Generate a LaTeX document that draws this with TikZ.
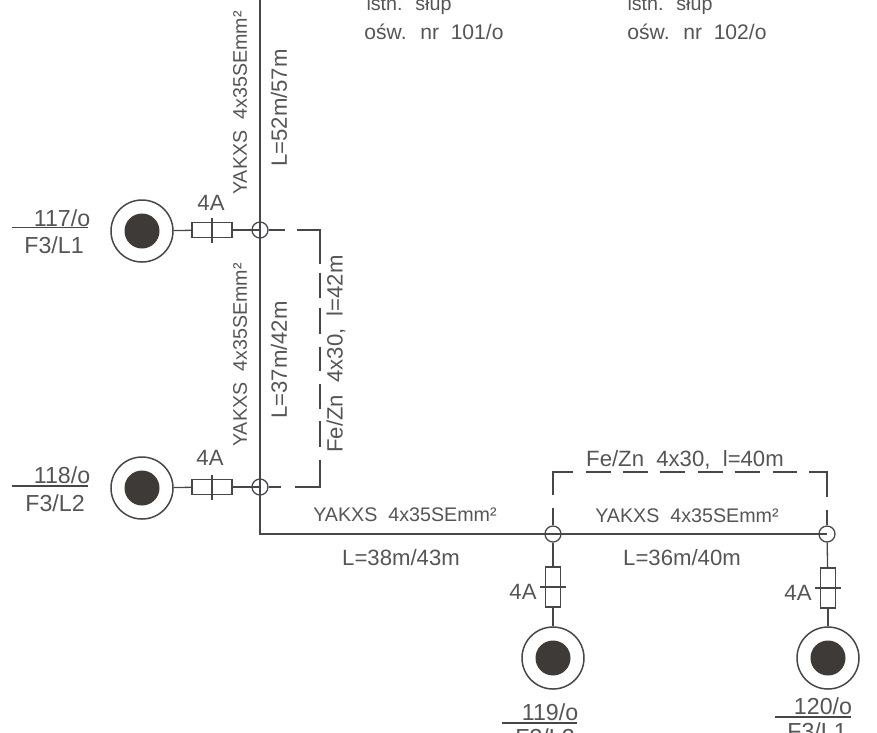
\documentclass[tikz,border=0pt]{standalone}
\usepackage{fontspec}
\setmainfont{Liberation Sans}[WordSpace=2]
\usetikzlibrary{positioning, calc}
\definecolor{inkline}{HTML}{46464C}
\definecolor{inktext}{HTML}{555555}
\definecolor{corefill}{HTML}{3D3A38}
\tikzset{
  cable/.style={draw=inkline, line width=0.2mm},
  thinline/.style={draw=inkline, line width=0.13mm},
  earthleft/.style={draw=inkline, line width=0.13mm, dash pattern=on 0.16cm off 0.12cm on 0.57cm off 0.09cm on 0.25cm off 0.10cm on 0.26cm off 0.13cm on 0.24cm off 0.13cm on 0.25cm off 0.12cm on 0.26cm off 0.13cm on 0.52cm off 0.14cm on 0.30cm},
  earthtop/.style={draw=inkline, line width=0.13mm, dash pattern=on 0.17cm off 0.13cm on 0.43cm off 0.13cm on 0.25cm off 0.12cm on 0.25cm off 0.12cm on 0.25cm off 0.13cm on 0.25cm off 0.12cm on 0.25cm off 0.13cm on 0.24cm off 0.12cm on 0.43cm off 0.13cm on 0.30cm},
  lamp/.style={circle, draw=inkline, line width=0.15mm, fill=white, minimum size=0.62cm, inner sep=0pt},
  lampcore/.style={circle, fill=corefill, minimum size=0.35cm, inner sep=0pt},
  joint/.style={circle, draw=inkline, line width=0.13mm, minimum size=0.16cm, inner sep=0pt},
  fuseh/.style={rectangle, draw=inkline, line width=0.13mm, fill=white, minimum width=0.40cm, minimum height=0.15cm, inner sep=0pt},
  fusev/.style={rectangle, draw=inkline, line width=0.13mm, fill=white, minimum width=0.15cm, minimum height=0.40cm, inner sep=0pt},
  lbl/.style={text=inktext, font=\fontsize{6.3}{7}\selectfont, inner sep=0pt},
  cablelbl/.style={lbl, font=\fontsize{5.6}{7}\selectfont},
  postlbl/.style={lbl, font=\fontsize{6.0}{7}\selectfont},
  lamplbl/.style={lbl, font=\fontsize{6.6}{7}\selectfont},
}
\begin{document}
\begin{tikzpicture}
      \useasboundingbox (0,0) rectangle (8.77,-7.32);
      \clip (0,0) rectangle (8.77,-7.32);

      % lamps and joints
      \node[lamp] (lamp117) at (1.42,-2.31) {};
      \node[lamp] (lamp118) at (1.42,-4.88) {};
      \node[lamp] (lamp119) at (5.53,-6.58) {};
      \node[lamp] (lamp120) at (8.28,-6.58) {};
      \node[lampcore] at (lamp117) {};
      \node[lampcore] at (lamp118) {};
      \node[lampcore] at (lamp119) {};
      \node[lampcore] at (lamp120) {};

      \node[fuseh] (fuse117) at (2.12,-2.30) {};
      \node[fuseh] (fuse118) at (2.12,-4.87) {};
      \node[fusev] (fuse119) at (5.53,-5.87) {};
      \node[fusev] (fuse120) at (8.28,-5.88) {};

      \node[joint] (joint117) at (2.60,-2.30) {};
      \node[joint] (joint118) at (2.60,-4.87) {};
      \node[joint] (joint119) at (5.53,-5.34) {};
      \node[joint] (joint120) at (8.27,-5.34) {};

      \coordinate (top) at (2.60,0);
      \coordinate (corner) at (2.60,-5.34);
      \coordinate (earthA) at (3.20,-2.30);
      \coordinate (earthB) at (3.20,-4.87);
      \coordinate (earthC) at (5.53,-4.72);
      \coordinate (earthD) at (8.27,-4.72);

      % main cable
      \draw[cable] (top) -- (corner) -- (joint119.center) -- (joint120.center);

      % lamp connections
      \draw[thinline] (lamp117) -- (fuse117);
      \draw[cable] (fuse117) -- (joint117.center);
      \draw[thinline] (lamp118) -- (fuse118);
      \draw[cable] (fuse118) -- (joint118.center);
      \draw[thinline] (lamp119) -- (fuse119);
      \draw[thinline] (fuse119) -- (joint119);
      \draw[thinline] (lamp120) -- (fuse120);
      \draw[thinline] (fuse120) -- (joint120);

      % fuse ticks
      \draw[thinline] ($(fuse117)+(0,0.125)$) -- ($(fuse117)+(0,-0.125)$);
      \draw[thinline] ($(fuse118)+(0,0.125)$) -- ($(fuse118)+(0,-0.125)$);
      \draw[thinline] ($(fuse119)+(-0.13,0)$) -- ($(fuse119)+(0.13,0)$);
      \draw[thinline] ($(fuse120)+(-0.13,0)$) -- ($(fuse120)+(0.13,0)$);

      % earthing
      \draw[earthleft] (joint117.east) -- (earthA) -- (earthB) -- (joint118.east);
      \draw[earthtop] (joint119.north) -- (earthC) -- (earthD) -- (joint120.north);

      % labels
      \node[lamplbl] (l117a) at (0.62,-2.18) {117/o};
      \node[lamplbl] (l117b) at (0.54,-2.45) {F3/L1};
      \coordinate (r117a) at (0.12,-2.275);
      \coordinate (r117b) at (0.88,-2.275);
      \draw[thinline] (r117a) -- (r117b);
      \node[lamplbl] (l118a) at (0.62,-4.75) {118/o};
      \node[lamplbl] (l118b) at (0.55,-5.03) {F3/L2};
      \coordinate (r118a) at (0.12,-4.86);
      \coordinate (r118b) at (0.88,-4.86);
      \draw[thinline] (r118a) -- (r118b);
      \node[lamplbl] (l119a) at (5.50,-7.12) {119/o};
      \node[lamplbl] (l119b) at (5.45,-7.37) {F3/L2};
      \coordinate (r119a) at (5.02,-7.23);
      \coordinate (r119b) at (5.77,-7.23);
      \draw[thinline] (r119a) -- (r119b);
      \node[lamplbl] (l120a) at (8.23,-7.06) {120/o};
      \node[lamplbl] (l120b) at (8.17,-7.31) {F3/L1};
      \coordinate (r120a) at (7.75,-7.17);
      \coordinate (r120b) at (8.51,-7.17);
      \draw[thinline] (r120a) -- (r120b);

      \node[lbl] at (2.11,-2.03) {4A};
      \node[lbl] at (2.10,-4.58) {4A};
      \node[lbl] at (5.23,-5.92) {4A};
      \node[lbl] at (7.98,-5.93) {4A};

      \node[cablelbl, rotate=90] at (2.40,-1.03) {YAKXS 4x35SEmm²};
      \node[lbl, rotate=90] at (2.79,-1.08) {L=52m/57m};
      \node[cablelbl, rotate=90] at (2.40,-3.55) {YAKXS 4x35SEmm²};
      \node[lbl, rotate=90] at (2.79,-3.60) {L=37m/42m};
      \node[lbl, rotate=90] at (3.36,-3.54) {Fe/Zn 4x30, l=42m};
      \node[cablelbl] at (4.05,-5.15) {YAKXS 4x35SEmm²};
      \node[lbl] at (4.01,-5.58) {L=38m/43m};
      \node[cablelbl] at (6.87,-5.16) {YAKXS 4x35SEmm²};
      \node[lbl] at (6.82,-5.58) {L=36m/40m};
      \node[lbl] at (6.85,-4.60) {Fe/Zn 4x30, l=40m};

      \node[cablelbl] at (4.09,-0.05) {istn. słup};
      \node[postlbl] at (4.34,-0.32) {ośw. nr 101/o};
      \node[cablelbl] at (6.70,-0.05) {istn. słup};
      \node[postlbl] at (6.97,-0.32) {ośw. nr 102/o};

    \end{tikzpicture}
\end{document}
